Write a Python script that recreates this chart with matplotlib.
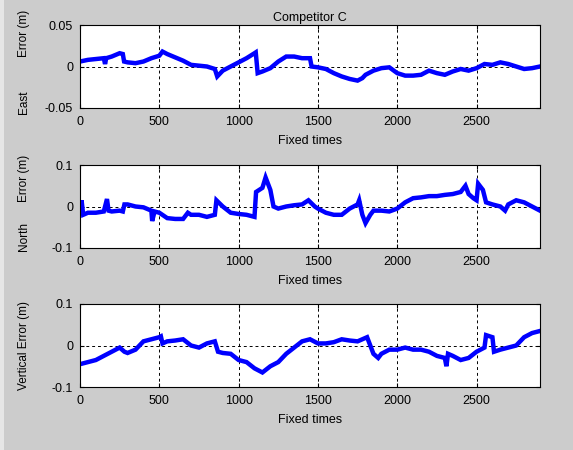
import matplotlib.pyplot as plt
from matplotlib.patches import Rectangle

plt.rcParams['font.family'] = ['Liberation Sans', 'DejaVu Sans']

# East error (m)
east_t = [0, 50, 100, 150, 158, 165, 200, 250, 270, 278, 300, 350, 400, 450, 500, 520,
          550, 600, 650, 700, 750, 800, 850, 865, 900, 950, 1000, 1050, 1100, 1108, 1120,
          1150, 1200, 1250, 1300, 1350, 1400, 1450, 1460, 1500, 1550, 1600, 1650, 1700,
          1750, 1780, 1800, 1850, 1900, 1950, 2000, 2050, 2100, 2150, 2200, 2250, 2300,
          2350, 2400, 2450, 2500, 2550, 2600, 2650, 2700, 2750, 2800, 2850, 2900]
east_err = [0.006, 0.008, 0.009, 0.010, 0.003, 0.010, 0.012, 0.016, 0.015, 0.006, 0.005,
            0.004, 0.006, 0.010, 0.013, 0.018, 0.015, 0.011, 0.007, 0.002, 0.001, 0.000,
            -0.003, -0.012, -0.005, 0.000, 0.005, 0.010, 0.016, 0.017, -0.008, -0.006,
            -0.002, 0.006, 0.012, 0.012, 0.010, 0.010, 0.000, -0.001, -0.003, -0.008,
            -0.012, -0.015, -0.017, -0.014, -0.010, -0.005, -0.002, -0.001, -0.008,
            -0.011, -0.011, -0.010, -0.005, -0.008, -0.010, -0.006, -0.003, -0.005,
            -0.002, 0.003, 0.002, 0.005, 0.003, 0.000, -0.003, -0.002, 0.000]

# North error (m)
north_t = [0, 10, 20, 50, 100, 150, 170, 180, 200, 250, 270, 280, 300, 350, 400, 450,
           455, 470, 500, 550, 600, 650, 680, 700, 750, 800, 850, 860, 900, 950, 1000,
           1050, 1100, 1110, 1150, 1170, 1200, 1220, 1250, 1300, 1350, 1400, 1440, 1480,
           1500, 1550, 1600, 1650, 1700, 1750, 1760, 1780, 1800, 1830, 1850, 1900, 1950,
           2000, 2050, 2100, 2150, 2200, 2250, 2300, 2350, 2400, 2430, 2450, 2480, 2500,
           2510, 2540, 2560, 2600, 2650, 2680, 2700, 2750, 2800, 2850, 2900]
north_err = [-0.010, 0.015, -0.020, -0.015, -0.015, -0.012, 0.018, -0.010, -0.012,
             -0.010, -0.012, 0.005, 0.005, 0.000, -0.002, -0.010, -0.035, -0.012,
             -0.015, -0.028, -0.030, -0.030, -0.015, -0.020, -0.020, -0.025, -0.020,
             0.015, 0.000, -0.015, -0.018, -0.020, -0.025, 0.035, 0.045, 0.070, 0.040,
             0.000, -0.005, 0.000, 0.003, 0.005, 0.015, 0.000, -0.005, -0.015, -0.020,
             -0.020, -0.005, 0.005, 0.015, -0.020, -0.040, -0.020, -0.010, -0.010,
             -0.012, -0.005, 0.010, 0.020, 0.022, 0.025, 0.025, 0.028, 0.030, 0.035,
             0.050, 0.030, 0.020, 0.015, 0.055, 0.040, 0.010, 0.005, 0.000, -0.010,
             0.005, 0.015, 0.010, 0.000, -0.010]

# Vertical error (m)
vert_t = [0, 50, 100, 150, 200, 250, 280, 300, 350, 400, 450, 500, 510, 520, 550, 600,
          650, 700, 750, 800, 850, 870, 900, 950, 1000, 1050, 1100, 1150, 1200, 1250,
          1300, 1350, 1400, 1450, 1500, 1550, 1600, 1650, 1700, 1750, 1810, 1850, 1880,
          1900, 1950, 2000, 2050, 2100, 2150, 2200, 2250, 2300, 2310, 2320, 2350, 2400,
          2450, 2500, 2550, 2560, 2600, 2610, 2650, 2700, 2750, 2800, 2850, 2900]
vert_err = [-0.045, -0.040, -0.035, -0.025, -0.015, -0.005, -0.015, -0.018, -0.010,
            0.010, 0.015, 0.020, 0.022, 0.005, 0.010, 0.012, 0.015, 0.000, -0.005,
            0.005, 0.010, -0.015, -0.018, -0.020, -0.035, -0.040, -0.055, -0.065,
            -0.050, -0.040, -0.020, -0.005, 0.010, 0.015, 0.005, 0.005, 0.008, 0.015,
            0.012, 0.010, 0.020, -0.020, -0.030, -0.020, -0.010, -0.010, -0.005,
            -0.010, -0.010, -0.015, -0.025, -0.030, -0.050, -0.020, -0.025, -0.035,
            -0.030, -0.015, -0.005, 0.025, 0.020, -0.015, -0.010, -0.005, 0.000,
            0.020, 0.030, 0.035]

W, H = 573, 450
panels = [(east_t, east_err, 0.05), (north_t, north_err, 0.1), (vert_t, vert_err, 0.1)]
# axes boxes in pixels: left, top, right, bottom
boxes = [(80, 25, 540, 108), (80, 165, 540, 248), (80, 304, 540, 387)]
# rotated y-label pieces: text, x, y in pixels
ylabels = [('Error (m)', 24, 33), ('East', 24, 102),
           ('Error (m)', 24, 178), ('North', 24, 236),
           ('Vertical Error (m)', 24, 346)]

fig = plt.figure(figsize=(W / 100, H / 100), dpi=100, facecolor='#cccccc')
fig.patches.append(Rectangle((0, 0), 4 / W, 1, transform=fig.transFigure,
                             facecolor='#e6e6e6', edgecolor='none', zorder=-1))

for (t, err, lim), (l, tp, r, b) in zip(panels, boxes):
    ax = fig.add_axes([l / W, 1 - b / H, (r - l) / W, (b - tp) / H])
    ax.plot(t, err, color='#0000ff', lw=3.2, solid_joinstyle='miter')
    ax.set_xlim(0, 2900)
    ax.set_ylim(-lim, lim)
    ax.set_xticks([0, 500, 1000, 1500, 2000, 2500])
    ax.set_yticks([-lim, 0, lim])
    ax.set_yticklabels(['%g' % -lim, '0', '%g' % lim])
    ax.grid(True, color='black', linestyle=(0, (3, 3)), linewidth=0.7)
    ax.tick_params(direction='in', length=3, labelsize=9, top=True, right=True)
    ax.tick_params(axis='x', pad=6)
    ax.tick_params(axis='y', pad=5)
    for s in ax.spines.values():
        s.set_linewidth(0.8)
    ax.set_xlabel('Fixed times', fontsize=9, labelpad=5)

for txt, x, y in ylabels:
    fig.text(x / W, 1 - y / H, txt, rotation=90, ha='center', va='center', fontsize=8.5)

fig.axes[0].set_title('Competitor C', fontsize=9, pad=3)

fig.savefig('out.png', dpi=100, facecolor=fig.get_facecolor())
